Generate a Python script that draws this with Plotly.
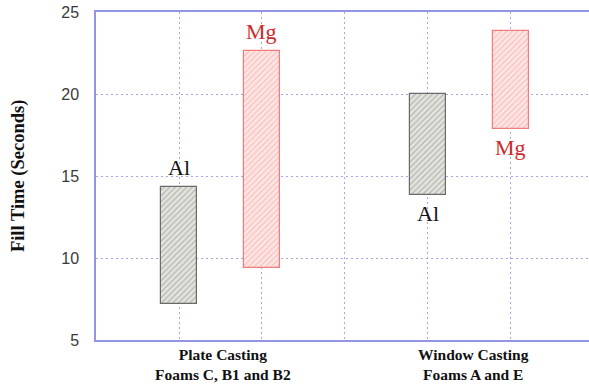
import plotly.graph_objects as go

# Fill-time ranges (seconds) for each alloy and casting type
alloys = ["Al", "Mg", "Al", "Mg"]
positions = [1, 2, 4, 5]
low_times = [7.2, 9.4, 13.85, 17.85]
high_times = [14.35, 22.65, 20.0, 23.85]
label_side = ["above", "above", "below", "below"]

group_labels = ["Plate Casting<br>Foams C, B1 and B2", "Window Casting<br>Foams A and E"]
group_positions = [1.53, 4.55]

y_ticks = [5, 10, 15, 20, 25]

styles = {
    "Al": dict(bg="#e4e4de", fg="#858583", line="#6a6a6a", text="#111111"),
    "Mg": dict(bg="#fde6e4", fg="#f29896", line="#f07c7c", text="#cc2a2a"),
}

fig = go.Figure()

for alloy in ["Al", "Mg"]:
    idx = [i for i, a in enumerate(alloys) if a == alloy]
    st = styles[alloy]
    fig.add_trace(go.Bar(
        x=[positions[i] for i in idx],
        base=[low_times[i] for i in idx],
        y=[high_times[i] - low_times[i] for i in idx],
        width=0.43,
        marker=dict(
            color=st["bg"],
            line=dict(color=st["line"], width=1.2),
            pattern=dict(shape="/", fgcolor=st["fg"], bgcolor=st["bg"],
                         size=4, solidity=0.3, fillmode="overlay"),
        ),
        name=alloy,
        showlegend=False,
        hoverinfo="skip",
    ))

# Alloy labels placed just above or below each range bar
for a, x, lo, hi, side in zip(alloys, positions, low_times, high_times, label_side):
    above = side == "above"
    fig.add_annotation(
        x=x, y=hi if above else lo,
        text=a, showarrow=False,
        yanchor="bottom" if above else "top",
        yshift=5 if above else -4,
        font=dict(family="Liberation Serif", size=22, color=styles[a]["text"]),
    )

# Casting group labels under the x axis
for lbl, gx in zip(group_labels, group_positions):
    fig.add_annotation(
        x=gx, y=0, xref="x", yref="paper",
        yanchor="top", yshift=-4,
        text="<b>" + lbl + "</b>", showarrow=False,
        font=dict(family="Liberation Serif", size=15.5, color="#111111"),
        align="center",
    )

# Vertical axis title
fig.add_annotation(
    x=-0.158, y=0.5, xref="paper", yref="paper",
    xanchor="center", yanchor="middle",
    text="<b>Fill Time (Seconds)</b>", showarrow=False, textangle=-90,
    font=dict(family="Liberation Serif", size=18.5, color="#111111"),
)

axis_color = "#9494e4"
grid_color = "#a4a4ea"

fig.update_layout(
    width=589, height=385,
    margin=dict(l=96, r=0, t=12, b=45),
    paper_bgcolor="white", plot_bgcolor="white",
    bargap=0,
    xaxis=dict(
        range=[0, 5.94],
        tickvals=[1, 2, 3, 4, 5],
        showticklabels=False,
        showgrid=True, gridcolor=grid_color, griddash="2px,3px", gridwidth=1,
        showline=True, linecolor=axis_color, linewidth=1.5, mirror=True,
        ticks="", zeroline=False,
    ),
    yaxis=dict(
        range=[5, 25],
        tickvals=y_ticks,
        showgrid=True, gridcolor=grid_color, griddash="2px,3px", gridwidth=1,
        showline=True, linecolor=axis_color, linewidth=1.5,
        ticks="", ticklabelstandoff=12, zeroline=False,
        tickfont=dict(family="Liberation Sans", size=16, color="#3a3a3a"),
    ),
)

fig.write_html("out.html")
